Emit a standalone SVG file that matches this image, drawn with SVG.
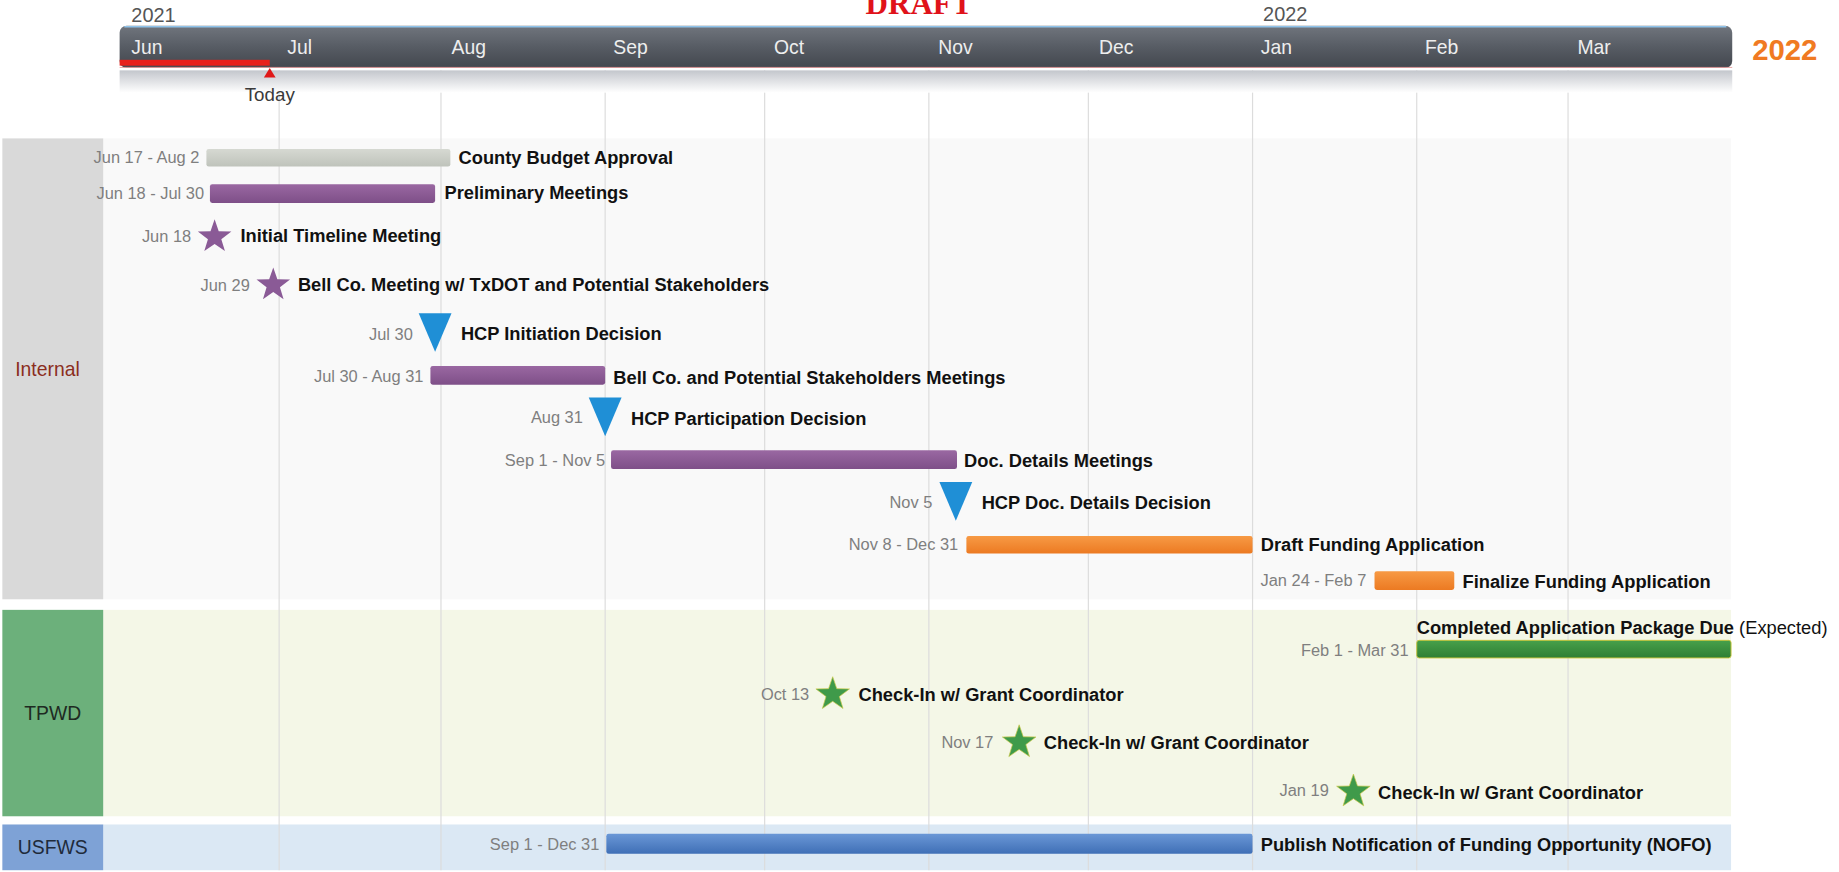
<svg xmlns="http://www.w3.org/2000/svg" width="1839" height="872" viewBox="0 0 1839 872">
<style>
text{font-family:"Liberation Sans",Arial,sans-serif}
.t{font-size:15.6px;font-weight:bold;fill:#111}
.d{font-size:14px;fill:#7f7f7f;text-anchor:end}
.m{font-size:16.5px;fill:#eeeeee}
.y{font-size:17px;fill:#555}
.grid{stroke:#dcdcdc;stroke-width:1}
.pur{fill:url(#gPur)}
.org{fill:url(#gOrg)}
.tri{fill:#1f8fd6}
.sp{fill:#8a5a96}
.sg{fill:#3f9a4a;stroke:#c9c94a;stroke-width:0.6}
</style>
<defs>
<linearGradient id="gHead" x1="0" y1="0" x2="0" y2="1">
<stop offset="0" stop-color="#70757d"/><stop offset="0.5" stop-color="#575c64"/><stop offset="1" stop-color="#43474e"/>
</linearGradient>
<linearGradient id="gRef" x1="0" y1="0" x2="0" y2="1">
<stop offset="0" stop-color="#c3c6cc"/><stop offset="1" stop-color="#ffffff"/>
</linearGradient>
<linearGradient id="gPur" x1="0" y1="0" x2="0" y2="1">
<stop offset="0" stop-color="#9a68a2"/><stop offset="1" stop-color="#7e4f88"/>
</linearGradient>
<linearGradient id="gOrg" x1="0" y1="0" x2="0" y2="1">
<stop offset="0" stop-color="#f79a45"/><stop offset="1" stop-color="#ec7a22"/>
</linearGradient>
<linearGradient id="gGray" x1="0" y1="0" x2="0" y2="1">
<stop offset="0" stop-color="#d6d9d2"/><stop offset="1" stop-color="#bfc3bb"/>
</linearGradient>
<linearGradient id="gGrn" x1="0" y1="0" x2="0" y2="1">
<stop offset="0" stop-color="#47a04a"/><stop offset="1" stop-color="#2f7f34"/>
</linearGradient>
<linearGradient id="gBlu" x1="0" y1="0" x2="0" y2="1">
<stop offset="0" stop-color="#6a97d6"/><stop offset="1" stop-color="#3f6fb6"/>
</linearGradient>
<polygon id="star" points="0,-15 3.5,-4.8 14.3,-4.6 5.7,1.9 8.8,12.1 0,6 -8.8,12.1 -5.7,1.9 -14.3,-4.6 -3.5,-4.8"/>
<polygon id="tri" points="-14,-16 14,-16 0,17"/>
</defs>
<rect width="1839" height="872" fill="#ffffff"/>
<g transform="scale(1.1728)">
<!-- lanes -->
<g id="lane-internal">
<rect x="88" y="118" width="1388" height="393" fill="#f9f9f9"/>
<rect x="2" y="118" width="86" height="393" fill="#d9d9d9"/>
<text x="13" y="321" style="font-size:16.5px;fill:#8b2e1e">Internal</text>
</g>
<g id="lane-tpwd">
<rect x="88" y="520" width="1388" height="176" fill="#f4f7e7"/>
<rect x="2" y="520" width="86" height="176" fill="#6cb07b"/>
<text x="45" y="614" text-anchor="middle" style="font-size:16.5px;fill:#1e2a22">TPWD</text>
</g>
<g id="lane-usfws">
<rect x="88" y="703" width="1388" height="39" fill="#dbe8f4"/>
<rect x="2" y="703" width="86" height="39" fill="#7ea2d6"/>
<text x="45" y="728" text-anchor="middle" style="font-size:16.5px;fill:#1e2a3a">USFWS</text>
</g>
<!-- grid -->
<g id="gridlines">
<line class="grid" x1="238" y1="60" x2="238" y2="742"/>
<line class="grid" x1="376" y1="60" x2="376" y2="742"/>
<line class="grid" x1="516" y1="60" x2="516" y2="742"/>
<line class="grid" x1="652" y1="60" x2="652" y2="742"/>
<line class="grid" x1="792" y1="60" x2="792" y2="742"/>
<line class="grid" x1="928" y1="60" x2="928" y2="742"/>
<line class="grid" x1="1068" y1="60" x2="1068" y2="742"/>
<line class="grid" x1="1208" y1="60" x2="1208" y2="742"/>
<line class="grid" x1="1337" y1="60" x2="1337" y2="742"/>
</g>
<!-- header -->
<g id="header">
<text x="738" y="12" style="font-family:'Liberation Serif','Times New Roman',serif;font-size:26.5px;font-weight:bold;fill:#e0121a">DRAFT</text>
<text class="y" x="112" y="19">2021</text>
<text class="y" x="1077" y="18">2022</text>
<rect x="102" y="60" width="1375" height="19" fill="url(#gRef)"/>
<rect x="102" y="22" width="1375" height="36" rx="6" fill="url(#gHead)"/>
<line x1="106" y1="22.8" x2="1472" y2="22.8" stroke="#8fc3ea" stroke-width="1.4"/>
<line x1="102" y1="57.5" x2="1477" y2="57.5" stroke="#e8a0a0" stroke-width="0.8"/>
<rect x="102" y="51" width="128" height="5" fill="#e8201c"/>
<polygon points="230,58 225,66 235,66" fill="#e01818"/>
<text x="230" y="86" text-anchor="middle" style="font-size:16px;fill:#3a3a3a">Today</text>
<text class="m" x="112" y="46">Jun</text>
<text class="m" x="245" y="46">Jul</text>
<text class="m" x="385" y="46">Aug</text>
<text class="m" x="523" y="46">Sep</text>
<text class="m" x="660" y="46">Oct</text>
<text class="m" x="800" y="46">Nov</text>
<text class="m" x="937" y="46">Dec</text>
<text class="m" x="1075" y="46">Jan</text>
<text class="m" x="1215" y="46">Feb</text>
<text class="m" x="1345" y="46">Mar</text>
<text x="1494" y="51" style="font-size:25px;font-weight:bold;fill:#f07a22">2022</text>
</g>
<!-- tasks -->
<g id="task-county-budget">
<rect x="176" y="127" width="208" height="15" rx="2" fill="url(#gGray)"/>
<text class="d" x="170" y="139">Jun 17 - Aug 2</text>
<text class="t" x="391" y="140">County Budget Approval</text>
</g>
<g id="task-preliminary">
<rect x="179" y="157" width="192" height="16" rx="2" class="pur"/>
<text class="d" x="174" y="170">Jun 18 - Jul 30</text>
<text class="t" x="379" y="170">Preliminary Meetings</text>
</g>
<g id="ms-initial-timeline">
<use href="#star" x="183" y="202" class="sp"/>
<text class="d" x="163" y="206">Jun 18</text>
<text class="t" x="205" y="206">Initial Timeline Meeting</text>
</g>
<g id="ms-bell-txdot">
<use href="#star" x="233" y="243" class="sp"/>
<text class="d" x="213" y="248">Jun 29</text>
<text class="t" x="254" y="248">Bell Co. Meeting w/ TxDOT and Potential Stakeholders</text>
</g>
<g id="ms-hcp-initiation">
<use href="#tri" x="371" y="283" class="tri"/>
<text class="d" x="352" y="290">Jul 30</text>
<text class="t" x="393" y="290">HCP Initiation Decision</text>
</g>
<g id="task-bell-stakeholders">
<rect x="367" y="312" width="149" height="16" rx="2" class="pur"/>
<text class="d" x="361" y="326">Jul 30 - Aug 31</text>
<text class="t" x="523" y="327">Bell Co. and Potential Stakeholders Meetings</text>
</g>
<g id="ms-hcp-participation">
<use href="#tri" x="516" y="355" class="tri"/>
<text class="d" x="497" y="361">Aug 31</text>
<text class="t" x="538" y="362">HCP Participation Decision</text>
</g>
<g id="task-doc-details">
<rect x="521" y="384" width="295" height="16" rx="2" class="pur"/>
<text class="d" x="516" y="397">Sep 1 - Nov 5</text>
<text class="t" x="822" y="398">Doc. Details Meetings</text>
</g>
<g id="ms-hcp-doc-details">
<use href="#tri" x="815" y="427" class="tri"/>
<text class="d" x="795" y="433">Nov 5</text>
<text class="t" x="837" y="434">HCP Doc. Details Decision</text>
</g>
<g id="task-draft-funding">
<rect x="824" y="457" width="244" height="15" rx="2" class="org"/>
<text class="d" x="817" y="469">Nov 8 - Dec 31</text>
<text class="t" x="1075" y="470">Draft Funding Application</text>
</g>
<g id="task-finalize-funding">
<rect x="1172" y="487" width="68" height="16" rx="2" class="org"/>
<text class="d" x="1165" y="500">Jan 24 - Feb 7</text>
<text class="t" x="1247" y="501">Finalize Funding Application</text>
</g>
<g id="task-completed-package">
<rect x="1208" y="546" width="268" height="15" rx="2" fill="url(#gGrn)" stroke="#c8c43a" stroke-width="0.8"/>
<text class="d" x="1201" y="559">Feb 1 - Mar 31</text>
<text x="1208" y="541" style="font-size:15.6px;fill:#111"><tspan font-weight="bold">Completed Application Package Due</tspan> (Expected)</text>
</g>
<g id="ms-checkin-oct">
<use href="#star" x="710" y="592" class="sg"/>
<text class="d" x="690" y="597">Oct 13</text>
<text class="t" x="732" y="598">Check-In w/ Grant Coordinator</text>
</g>
<g id="ms-checkin-nov">
<use href="#star" x="869" y="633" class="sg"/>
<text class="d" x="847" y="638">Nov 17</text>
<text class="t" x="890" y="639">Check-In w/ Grant Coordinator</text>
</g>
<g id="ms-checkin-jan">
<use href="#star" x="1154" y="675" class="sg"/>
<text class="d" x="1133" y="679">Jan 19</text>
<text class="t" x="1175" y="681">Check-In w/ Grant Coordinator</text>
</g>
<g id="task-nofo">
<rect x="517" y="711" width="551" height="17" rx="2" fill="url(#gBlu)"/>
<text class="d" x="511" y="725">Sep 1 - Dec 31</text>
<text class="t" x="1075" y="726">Publish Notification of Funding Opportunity (NOFO)</text>
</g>
<g id="connectors"/>
</g>
</svg>
